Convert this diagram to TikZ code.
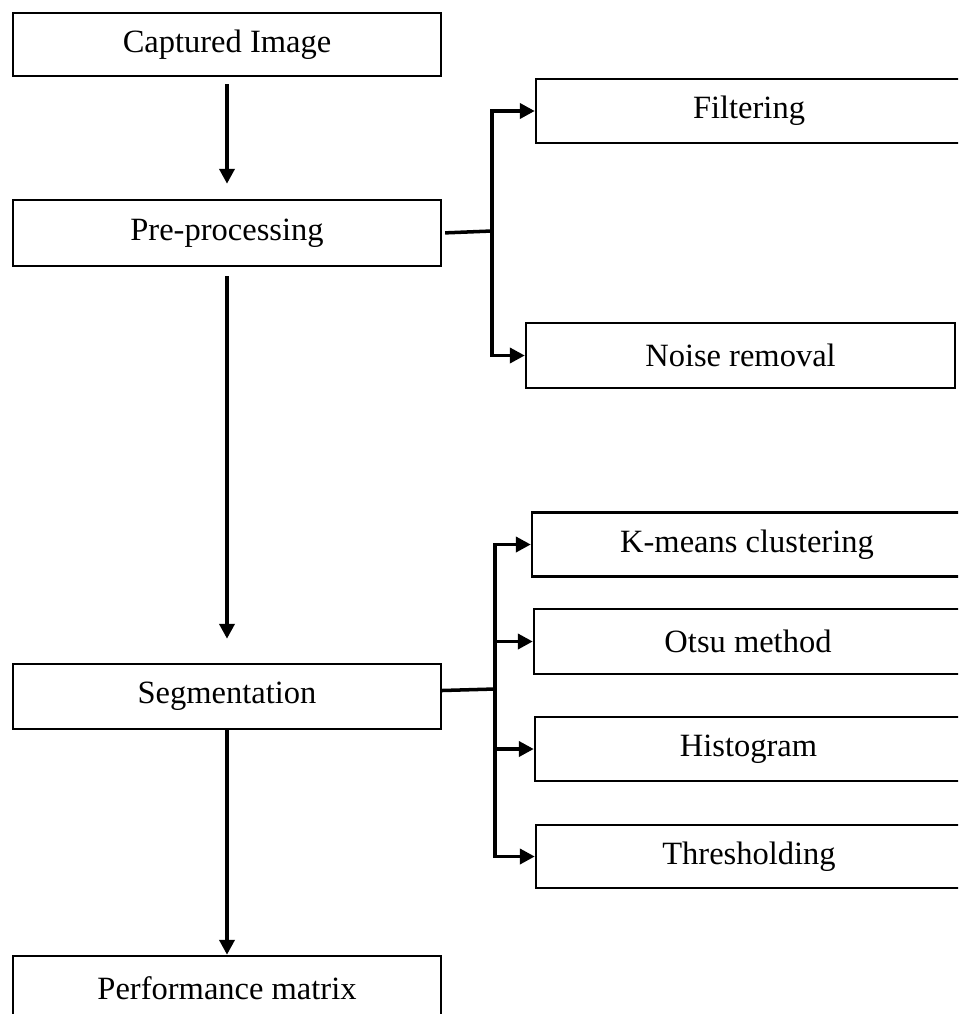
\documentclass[tikz,border=0pt]{standalone}
\usepackage{fontspec}
\setmainfont{Liberation Serif}
\usetikzlibrary{arrows.meta}

\begin{document}
\begin{tikzpicture}[x=0.02cm, y=-0.02cm,
  box/.style={draw, line width=1.4pt, inner sep=0pt, font=\fontsize{18.5}{22}\selectfont},
  arr/.style={line width=2.2pt, -{Triangle[length=0.3cm, width=0.3cm]}},
  stub/.style={line width=2pt}]
  \clip (0,0) rectangle (958,1014);
  % Main flow (left column)
  \node[box, minimum width=8.56cm, minimum height=1.26cm] (cap) at (227,44.5) {Captured Image};
  \node[box, minimum width=8.56cm, minimum height=1.32cm] (pre) at (227,233) {Pre-processing};
  \node[box, minimum width=8.56cm, minimum height=1.3cm] (seg) at (227,696.5) {Segmentation};
  \node[box, minimum width=8.56cm, minimum height=1.3cm] (perf) at (227,988.5) {Performance matrix};
  % Pre-processing steps
  \node[box, minimum width=8.52cm, minimum height=1.28cm] (filt) at (749,111) {Filtering};
  \node[box, minimum width=8.58cm, minimum height=1.3cm] (noise) at (740.5,355.5) {Noise removal};
  % Segmentation methods
  \node[box, minimum width=8.6cm, minimum height=1.28cm] (kmeans) at (747,544.5) {K-means clustering};
  \node[box, minimum width=8.56cm, minimum height=1.3cm] (otsu) at (748,641.5) {Otsu method};
  \node[box, minimum width=8.54cm, minimum height=1.28cm] (hist) at (748.5,749) {Histogram};
  \node[box, minimum width=8.52cm, minimum height=1.26cm] (thresh) at (749,856.5) {Thresholding};
  % Down arrows
  \draw[arr, shorten <=0.14cm, shorten >=0.3cm] (cap) -- (pre);
  \draw[arr, shorten <=0.18cm, shorten >=0.48cm] (pre) -- (seg);
  \draw[arr] (seg) -- (perf);
  % Fork after pre-processing
  \coordinate (fpre) at (492,231);
  \draw[stub, shorten <=0.06cm] (pre.east) -- (fpre);
  \draw[arr] (fpre) |- (filt.west);
  \draw[arr] (fpre) |- (noise.west);
  % Fork after segmentation
  \coordinate (fseg) at (495,689);
  \draw[stub] ([yshift=0.12cm]seg.east) -- (fseg);
  \draw[arr] (fseg) |- (kmeans.west);
  \draw[arr] (fseg) |- (otsu.west);
  \draw[arr] (fseg) |- (hist.west);
  \draw[arr] (fseg) |- (thresh.west);
\end{tikzpicture}
\end{document}
